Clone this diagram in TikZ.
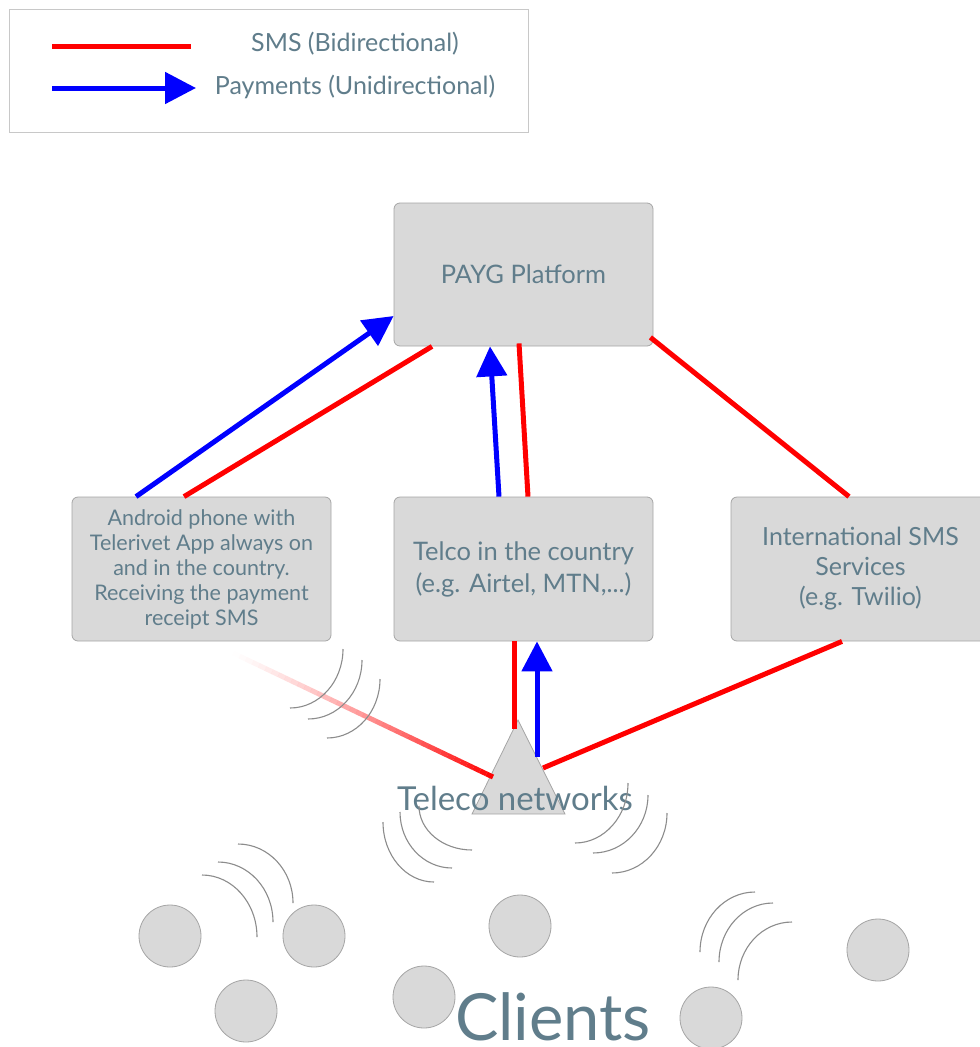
\documentclass[tikz,border=0pt]{standalone}
\usepackage{fontspec}
\setmainfont{Lato}
\usetikzlibrary{arrows.meta,calc}
\definecolor{txt}{RGB}{96,125,139}
\definecolor{boxfill}{RGB}{217,217,217}
\definecolor{boxline}{RGB}{165,165,165}
\definecolor{wavec}{RGB}{140,140,140}
\definecolor{legline}{RGB}{200,200,200}
\newcommand\qarc[3]{\draw[wave] (#1) .. controls ($(#1)!0.552!(#3)$) and ($(#2)!0.552!(#3)$) .. (#2);}
\begin{document}
\begin{tikzpicture}[x=1pt,y=-1pt,
  box/.style={draw=boxline, line width=0.8pt, fill=boxfill, rounded corners=6pt,
    minimum width=259pt, minimum height=144pt, inner sep=0pt, text=txt, align=center},
  sms/.style={draw=red, line width=5pt},
  pay/.style={draw=blue, line width=5pt, -{Triangle[length=30pt,width=30pt]}},
  wave/.style={draw=wavec, line width=1.1pt},
  client/.style={circle, draw=boxline, line width=0.8pt, fill=boxfill, minimum size=62pt, inner sep=0pt},
  lbl/.style={text=txt, inner sep=0pt},
]
\useasboundingbox (0,0) rectangle (980,1047);
\clip (0,0) rectangle (980,1047);

% legend
\node[draw=legline, line width=0.8pt, fill=white, minimum width=519pt, minimum height=123pt, inner sep=0pt] (legend) at (268.5,70.5) {};
\coordinate (smsA) at (52,46);
\coordinate (smsB) at (191,46);
\coordinate (payA) at (52,88);
\coordinate (payB) at (196,88);
\draw[sms] (smsA) -- (smsB);
\draw[pay, -{Triangle[length=31pt,width=31pt]}] (payA) -- (payB);
\node[lbl, font=\fontsize{25}{29}\selectfont] (smsText) at (355,44) {SMS (Bidirectional)};
\node[lbl, font=\fontsize{25}{29}\selectfont] (payText) at (355,87) {Payments (Unidirectional)};

% boxes
\node[box, minimum height=143pt, font=\fontsize{25.5}{30}\selectfont] (payg) at (523.5,274.5) {PAYG Platform};
\node[box, font=\fontsize{21.5}{25}\selectfont] (android) at (201.5,569) {\raisebox{2pt}{\parbox{250pt}{\centering Android phone with\\Telerivet App always on\\and in the country.\\Receiving the payment\\receipt SMS}}};
\node[box, font=\fontsize{25.5}{32}\selectfont] (telco) at (523.5,569) {Telco in the country\\(e.g. Airtel, MTN,...)};
\node[box, font=\fontsize{25}{30}\selectfont] (intl) at (860.5,569) {\raisebox{3pt}{\parbox{250pt}{\centering International SMS\\Services\\(e.g. Twilio)}}};

% tower
\coordinate (tA) at (518,720);
\coordinate (tL) at (472,814);
\coordinate (tR) at (565,814);
\draw[draw=boxline, line width=0.8pt, fill=boxfill] (tA) -- (tL) -- (tR) -- cycle;
\coordinate (towerRed) at (514,729);
\coordinate (towerBlue) at (537,757);
\coordinate (towerRight) at (543,768);
\coordinate (towerLeft) at (493,777);
\coordinate (fadeStart) at (233,653);

% connectors upper
\draw[pay] ([xshift=-65.5pt]android.north) -- ([yshift=-41.5pt]payg.west);
\draw[sms] ([xshift=-17.5pt]android.north) -- ([xshift=-91.5pt]payg.south);
\draw[pay] ([xshift=-24.5pt]telco.north) -- ([xshift=-33.5pt]payg.south);
\draw[sms] ([xshift=4.5pt]telco.north) -- ([xshift=-4.5pt,yshift=3pt]payg.south);
\draw[sms] ([xshift=-3pt,yshift=9pt]payg.south east) -- ([xshift=-11.5pt]intl.north);

% connectors lower
\draw[sms] ([xshift=-9.5pt]telco.south) -- (towerRed);
\draw[pay] (towerBlue) -- ([xshift=13.5pt]telco.south);
\draw[sms] (towerRight) -- ([xshift=-18.5pt]intl.south);
\foreach \i in {0,...,39} {
  \pgfmathsetmacro\fa{\i/40}
  \pgfmathsetmacro\fb{(\i+1)/40}
  \pgfmathsetmacro\fo{((\i+0.5)/40)^1.3}
  \draw[red, line width=5pt, opacity=\fo] ($(fadeStart)!\fa!(towerLeft)$) -- ($(fadeStart)!\fb!(towerLeft)$);
}

\node[lbl, font=\fontsize{33}{38}\selectfont, anchor=base] (teleco) at (515,810) {Teleco networks};

% waves
\qarc{343,649}{290,708}{343,708}
\qarc{362,660}{308,719}{362,719}
\qarc{380,679}{327,738}{380,738}
\qarc{419,806}{472,850}{419,850}
\qarc{400,812}{452,868}{400,868}
\qarc{383,822}{434,882}{383,882}
\qarc{628,783}{575,843}{628,843}
\qarc{648,795}{593,853}{648,853}
\qarc{667,813}{612,873}{667,873}
\qarc{202,875}{257,937}{257,875}
\qarc{218,862}{273,922}{273,862}
\qarc{238,844}{293,903}{293,844}
\qarc{700,952}{755,892}{700,892}
\qarc{719,962}{773,903}{719,903}
\qarc{738,980}{792,922}{738,922}

% clients
\node[client] (c1) at (170,936) {};
\node[client] (c2) at (314,936) {};
\node[client] (c3) at (520,926) {};
\node[client] (c4) at (878,950) {};
\node[client] (c5) at (246,1011) {};
\node[client] (c6) at (424,997) {};
\node[client] (c7) at (711,1018) {};
\node[lbl, font=\fontsize{65}{72}\selectfont, anchor=base] (clients) at (553,1040) {Clients};
\end{tikzpicture}
\end{document}
